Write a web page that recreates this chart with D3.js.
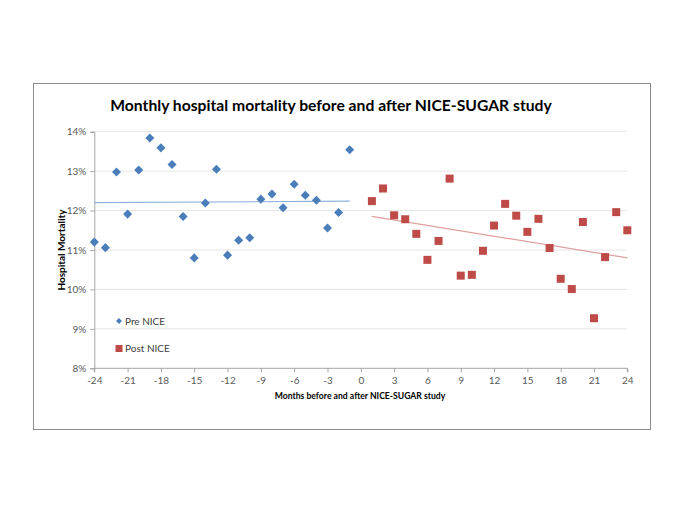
<!DOCTYPE html>
<html><head><meta charset="utf-8">
<script src="https://cdn.jsdelivr.net/npm/d3@7"></script>
<style>body{margin:0;background:#fff}svg{display:block}</style>
</head><body>
<svg id="c" width="685" height="513"></svg>
<script>
const title = "Monthly hospital mortality before and after NICE-SUGAR study";
const xLabel = "Months before and after NICE-SUGAR study";
const yLabel = "Hospital Mortality";
const preMonths = [-24,-23,-22,-21,-20,-19,-18,-17,-16,-15,-14,-13,-12,-11,-10,-9,-8,-7,-6,-5,-4,-3,-2,-1];
const preValues = [11.20,11.06,12.98,11.91,13.03,13.84,13.59,13.17,11.85,10.80,12.19,13.05,10.87,11.25,11.31,12.29,12.42,12.07,12.67,12.39,12.26,11.56,11.95,13.54];
const postMonths = [1,2,3,4,5,6,7,8,9,10,11,12,13,14,15,16,17,18,19,20,21,22,23,24];
const postValues = [12.24,12.56,11.88,11.78,11.41,10.75,11.23,12.81,10.35,10.37,10.98,11.62,12.17,11.87,11.46,11.79,11.05,10.27,10.01,11.71,9.27,10.82,11.96,11.50];
const xTicks = [-24,-21,-18,-15,-12,-9,-6,-3,0,3,6,9,12,15,18,21,24];
const yTicks = [8,9,10,11,12,13,14];
const seriesNames = ["Pre NICE","Post NICE"];

const svg = d3.select("#c");
const font = "Lato, 'Open Sans', sans-serif";
// chart border
svg.append("rect").attr("x",33.5).attr("y",83.5).attr("width",617).attr("height",346)
  .attr("fill","#fff").attr("stroke","#8c8c8c").attr("stroke-width",1);

const x = d3.scaleLinear().domain([-24,24]).range([94.3,627.3]);
const y = d3.scaleLinear().domain([8,14]).range([368.3,131.7]);

// gridlines
svg.append("g").selectAll("line").data(yTicks.filter(t=>t>8)).join("line")
  .attr("x1",x(-24)).attr("x2",x(24)).attr("y1",d=>y(d)).attr("y2",d=>y(d))
  .attr("stroke","#e6e6e6").attr("stroke-width",1);

// axes
const yAxis = d3.axisLeft(y).tickValues(yTicks).tickFormat(d=>d+"%").tickSize(4).tickPadding(4);
const gy = svg.append("g").attr("transform",`translate(${x(-24)},0)`).call(yAxis);
const xAxis = d3.axisBottom(x).tickValues(xTicks).tickFormat(d=>d).tickSize(4).tickPadding(5);
const gx = svg.append("g").attr("transform",`translate(0,${y(8)})`).call(xAxis);
[gx,gy].forEach(g=>{
  g.selectAll("path,line").attr("stroke","#a6a6a6");
  g.selectAll("text").attr("fill","#595959").style("font-family",font).style("font-size","10px");
});
gx.select(".domain").attr("d",`M${x(-24)},4V0H${x(24)}V4`);

// trend lines (least squares fit)
function fit(xs, ys){
  const n=xs.length, mx=d3.mean(xs), my=d3.mean(ys);
  let sxy=0,sxx=0; for(let i=0;i<n;i++){sxy+=(xs[i]-mx)*(ys[i]-my);sxx+=(xs[i]-mx)**2;}
  const b=sxy/sxx, a=my-b*mx; return t=>a+b*t;
}
const fPre = fit(preMonths,preValues), fPost = fit(postMonths,postValues);
svg.append("line").attr("x1",x(-24)).attr("x2",x(-1)).attr("y1",y(fPre(-24))).attr("y2",y(fPre(-1)))
  .attr("stroke","#8eb0d8").attr("stroke-width",1.2);
svg.append("line").attr("x1",x(1)).attr("x2",x(24)).attr("y1",y(fPost(1))).attr("y2",y(fPost(24)))
  .attr("stroke","#e0a0a0").attr("stroke-width",1.2);

// points
const diamond = d3.symbol().type(d3.symbolDiamond2).size(52);
svg.append("g").selectAll("path").data(preMonths.map((m,i)=>[m,preValues[i]])).join("path")
  .attr("d",diamond).attr("transform",d=>`translate(${x(d[0])},${y(d[1])})`).attr("fill","#4a7ebb");
svg.append("g").selectAll("rect").data(postMonths.map((m,i)=>[m,postValues[i]])).join("rect")
  .attr("x",d=>x(d[0])-4).attr("y",d=>y(d[1])-4).attr("width",8).attr("height",8).attr("fill","#be4b48");

// legend
const leg = svg.append("g");
leg.append("path").attr("d",d3.symbol().type(d3.symbolDiamond2).size(22)).attr("transform","translate(119,321)").attr("fill","#4a7ebb");
leg.append("rect").attr("x",115.5).attr("y",345).attr("width",7).attr("height",7).attr("fill","#be4b48");
leg.selectAll("text").data(seriesNames).join("text").attr("x",125).attr("y",(d,i)=>i?352:324.5)
  .text(d=>d).attr("fill","#404040").style("font-family",font).style("font-size","10px");

// title
const t = svg.append("text").attr("x",331).attr("y",111).attr("text-anchor","middle")
  .style("font-family",font).style("font-weight","bold").style("font-size","18px").attr("fill","#000").text(title);
const tw = t.node().getComputedTextLength(); t.style("font-size",(18*442/tw)+"px");

// axis labels
const xl = svg.append("text").attr("x",360).attr("y",399).attr("text-anchor","middle")
  .style("font-family",font).style("font-weight","bold").style("font-size","10px").attr("fill","#000").text(xLabel);
const xw = xl.node().getComputedTextLength(); xl.style("font-size",(10*171/xw)+"px");
const yl = svg.append("text").attr("transform","translate(65,250) rotate(-90)").attr("text-anchor","middle")
  .style("font-family",font).style("font-weight","bold").style("font-size","10px").attr("fill","#000").text(yLabel);
</script>
</body></html>
